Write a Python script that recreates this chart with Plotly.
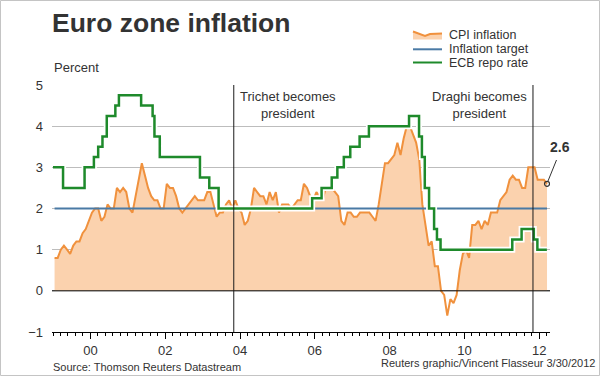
import plotly.graph_objects as go
from datetime import date

# ---------------- data ----------------
CPI_START_YEAR = 1999
cpi_1999 = [0.8, 0.8, 1.0, 1.1, 1.0, 0.9, 1.1, 1.2, 1.2, 1.4, 1.5, 1.7]
cpi_2000 = [1.9, 2.0, 2.0, 1.7, 1.8, 2.1, 2.0, 2.0, 2.5, 2.4, 2.5, 2.4]
cpi_2001 = [2.0, 1.9, 2.3, 2.7, 3.1, 2.8, 2.5, 2.3, 2.2, 2.2, 2.0, 2.0]
cpi_2002 = [2.6, 2.5, 2.5, 2.3, 2.0, 1.9, 2.0, 2.1, 2.2, 2.3, 2.2, 2.2]
cpi_2003 = [2.2, 2.4, 2.4, 2.1, 1.8, 1.9, 1.9, 2.1, 2.2, 2.0, 2.2, 2.0]
cpi_2004 = [1.9, 1.6, 1.7, 2.0, 2.5, 2.4, 2.3, 2.3, 2.1, 2.4, 2.2, 2.4]
cpi_2005 = [1.9, 2.1, 2.1, 2.1, 2.0, 2.1, 2.2, 2.2, 2.6, 2.5, 2.3, 2.2]
cpi_2006 = [2.4, 2.3, 2.2, 2.5, 2.5, 2.5, 2.4, 2.3, 1.7, 1.6, 1.9, 1.9]
cpi_2007 = [1.8, 1.8, 1.9, 1.9, 1.9, 1.9, 1.8, 1.7, 2.1, 2.6, 3.1, 3.1]
cpi_2008 = [3.2, 3.3, 3.6, 3.3, 3.7, 4.0, 4.0, 3.8, 3.6, 3.2, 2.1, 1.6]
cpi_2009 = [1.1, 1.2, 0.6, 0.6, 0.0, -0.1, -0.6, -0.2, -0.3, -0.1, 0.5, 0.9]
cpi_2010 = [1.0, 0.8, 1.6, 1.6, 1.7, 1.5, 1.7, 1.6, 1.9, 1.9, 1.9, 2.2]
cpi_2011 = [2.3, 2.4, 2.7, 2.8, 2.7, 2.7, 2.5, 2.5, 3.0, 3.0, 3.0, 2.7]
cpi_2012 = [2.7, 2.7, 2.6]

repo_dates = ["1999-01-01", "1999-04-09", "1999-11-05", "2000-02-04", "2000-03-17",
              "2000-04-28", "2000-06-09", "2000-09-01", "2000-10-06", "2001-05-11",
              "2001-08-31", "2001-09-18", "2001-11-09", "2002-12-06", "2003-03-07",
              "2003-06-06", "2005-12-06", "2006-03-08", "2006-06-15", "2006-08-09",
              "2006-10-11", "2006-12-13", "2007-03-14", "2007-06-13", "2008-07-09",
              "2008-10-15", "2008-11-12", "2008-12-10", "2009-01-21", "2009-03-11",
              "2009-04-08", "2009-05-13", "2011-04-13", "2011-07-13", "2011-11-09",
              "2011-12-14", "2012-03-16"]
repo_rates = [3.0, 2.5, 3.0, 3.25, 3.5,
              3.75, 4.25, 4.5, 4.75, 4.5,
              4.25, 3.75, 3.25, 2.75, 2.5,
              2.0, 2.25, 2.5, 2.75, 3.0,
              3.25, 3.5, 3.75, 4.0, 4.25,
              3.75, 3.25, 2.5, 2.0, 1.5,
              1.25, 1.0, 1.25, 1.5, 1.25,
              1.0, 1.0]

target_rate = 2.0
latest_label = "2.6"

event_dates = ["2003-11-01", "2011-11-01"]
event_labels = ["Trichet becomes<br>president", "Draghi becomes<br>president"]

x_tick_years = [2000, 2002, 2004, 2006, 2008, 2010, 2012]
x_tick_labels = ["00", "02", "04", "06", "08", "10", "12"]
y_ticks = [-1, 0, 1, 2, 3, 4, 5]

legend_labels = ["CPI inflation", "Inflation target", "ECB repo rate"]
title_text = "Euro zone inflation"
unit_text = "Percent"
source_text = "Source: Thomson Reuters Datastream"
credit_text = "Reuters graphic/Vincent Flasseur 3/30/2012"

# ---------------- helpers ----------------
def dec_year(s):
    d = date.fromisoformat(s)
    start = date(d.year, 1, 1)
    n = (date(d.year + 1, 1, 1) - start).days
    return d.year + (d - start).days / n

cpi = (cpi_1999 + cpi_2000 + cpi_2001 + cpi_2002 + cpi_2003 + cpi_2004 + cpi_2005
       + cpi_2006 + cpi_2007 + cpi_2008 + cpi_2009 + cpi_2010 + cpi_2011 + cpi_2012)
cpi_x = [CPI_START_YEAR + (i + 0.5) / 12 for i in range(len(cpi))]
cpi_pos = [max(v, 0) for v in cpi]
repo_x = [dec_year(d) for d in repo_dates]
event_x = [dec_year(d) for d in event_dates]

W, H = 600, 376
L, R, T, B = 52, 50, 85, 44
PW, PH = W - L - R, H - T - B

def px(x):
    return (x - L) / PW

def py(y):
    return (H - B - y) / PH

FONT = "Liberation Sans, Arial, sans-serif"
TXT = "#333333"
ORANGE = "#F0913D"
FILL = "#FBD2AE"
GREEN = "#1E8A2B"
BLUE = "#4A7AA5"

fig = go.Figure()
fig.add_trace(go.Scatter(x=cpi_x, y=cpi_pos, mode="lines", fill="tozeroy",
                         fillcolor=FILL, line=dict(width=0, color=FILL),
                         hoverinfo="skip", showlegend=False))
fig.add_trace(go.Scatter(x=cpi_x, y=cpi, mode="lines",
                         line=dict(color=ORANGE, width=2), showlegend=False))
fig.add_trace(go.Scatter(x=[cpi_x[0], cpi_x[-1]], y=[target_rate, target_rate], mode="lines",
                         line=dict(color=BLUE, width=2), showlegend=False))
fig.add_trace(go.Scatter(x=repo_x, y=repo_rates, mode="lines", line_shape="hv",
                         line=dict(color="white", width=6), hoverinfo="skip", showlegend=False))
fig.add_trace(go.Scatter(x=repo_x, y=repo_rates, mode="lines", line_shape="hv",
                         line=dict(color=GREEN, width=2.5), showlegend=False))
fig.add_trace(go.Scatter(x=[cpi_x[-1]], y=[cpi[-1]], mode="markers",
                         marker=dict(symbol="circle-open", size=5, color="#333333",
                                     line=dict(width=1.2)),
                         showlegend=False))

shapes = []
# zero line
shapes.append(dict(type="line", xref="paper", yref="y", x0=0, x1=1, y0=0, y1=0,
                   line=dict(color="#000", width=1), layer="above"))
# event lines
for ex in event_x:
    shapes.append(dict(type="line", xref="x", yref="y", x0=ex, x1=ex, y0=-1, y1=5,
                       line=dict(color="#1a1a1a", width=1), layer="above"))
# leader for latest value
shapes.append(dict(type="line", xref="paper", yref="paper",
                   x0=px(556.5), y0=py(160), x1=px(547.8), y1=py(181.5),
                   line=dict(color="#333", width=1)))
# legend swatches
sw_x0, sw_x1 = 413, 442
path = (f"M{px(sw_x0)},{py(39.5)} L{px(sw_x0)},{py(31.5)} L{px(425)},{py(36)} "
        f"L{px(430)},{py(34)} L{px(sw_x1)},{py(33.5)} L{px(sw_x1)},{py(39.5)} Z")
shapes.append(dict(type="path", xref="paper", yref="paper", path=path,
                   fillcolor=FILL, line=dict(width=0)))
path2 = (f"M{px(sw_x0)},{py(31.5)} L{px(425)},{py(36)} L{px(430)},{py(34)} L{px(sw_x1)},{py(33.5)}")
shapes.append(dict(type="path", xref="paper", yref="paper", path=path2,
                   line=dict(color=ORANGE, width=2)))
shapes.append(dict(type="line", xref="paper", yref="paper", x0=px(sw_x0), x1=px(sw_x1),
                   y0=py(49.3), y1=py(49.3), line=dict(color=BLUE, width=2)))
shapes.append(dict(type="line", xref="paper", yref="paper", x0=px(sw_x0), x1=px(sw_x1),
                   y0=py(62.5), y1=py(62.5), line=dict(color=GREEN, width=2)))
# border
shapes.append(dict(type="rect", xref="paper", yref="paper", x0=px(0.5), x1=px(599.5),
                   y0=py(375.5), y1=py(0.5), line=dict(color="#c4c4c4", width=1)))

ann = []
ann.append(dict(text=title_text, xref="paper", yref="paper", x=px(50), y=py(23),
                xanchor="left", yanchor="middle", showarrow=False,
                font=dict(family=FONT, size=26.5, color=TXT, weight="bold")))
ann.append(dict(text=unit_text, xref="paper", yref="paper", x=px(52), y=py(68),
                xanchor="left", yanchor="middle", showarrow=False,
                font=dict(family=FONT, size=13, color=TXT)))
for lab, yy in zip(legend_labels, [35, 49, 63]):
    ann.append(dict(text=lab, xref="paper", yref="paper", x=px(447), y=py(yy),
                    xanchor="left", yanchor="middle", showarrow=False,
                    font=dict(family=FONT, size=12.5, color=TXT)))
ann.append(dict(text=event_labels[0], xref="x", yref="paper", x=event_x[0], y=py(105),
                xanchor="left", xshift=4, yanchor="middle", align="center", showarrow=False,
                font=dict(family=FONT, size=13, color=TXT)))
ann.append(dict(text=event_labels[1], xref="x", yref="paper", x=event_x[1], y=py(105),
                xanchor="right", xshift=-4, yanchor="middle", align="center", showarrow=False,
                font=dict(family=FONT, size=13, color=TXT)))
ann.append(dict(text=latest_label, xref="paper", yref="paper", x=px(560), y=py(147),
                xanchor="center", yanchor="middle", showarrow=False,
                font=dict(family=FONT, size=14, color=TXT, weight="bold")))
ann.append(dict(text=source_text, xref="paper", yref="paper", x=px(51), y=py(367),
                xanchor="left", yanchor="middle", showarrow=False,
                font=dict(family=FONT, size=11, color=TXT)))
ann.append(dict(text=credit_text, xref="paper", yref="paper", x=px(597), y=py(363),
                xanchor="right", yanchor="middle", showarrow=False,
                font=dict(family=FONT, size=11, color=TXT)))

fig.update_layout(
    width=W, height=H, autosize=False,
    margin=dict(l=L, r=R, t=T, b=B, pad=0),
    paper_bgcolor="white", plot_bgcolor="white",
    showlegend=False,
    shapes=shapes, annotations=ann,
    xaxis=dict(range=[1998.973, 2012.288], tickmode="array", tickvals=x_tick_years,
               ticktext=x_tick_labels, ticks="outside", ticklen=6, tickwidth=1,
               tickcolor="#000", showline=True, linecolor="#000", linewidth=1,
               showgrid=False, zeroline=False,
               tickfont=dict(family=FONT, size=13, color=TXT),
               minor=dict(ticks="outside", ticklen=3, tickcolor="#000", tickmode="linear",
                          tick0=2000, dtick=0.2, showgrid=False)),
    yaxis=dict(range=[-1, 5], tickmode="array", tickvals=y_ticks, ticks="",
               showgrid=True, gridcolor="#bdbdbd", gridwidth=1, zeroline=False,
               showline=False, ticklabelstandoff=8,
               tickfont=dict(family=FONT, size=13, color=TXT)),
)

fig.write_html("out.html", config={"displayModeBar": False},
               post_script="document.body.style.margin='0';document.body.style.overflow='hidden';")
